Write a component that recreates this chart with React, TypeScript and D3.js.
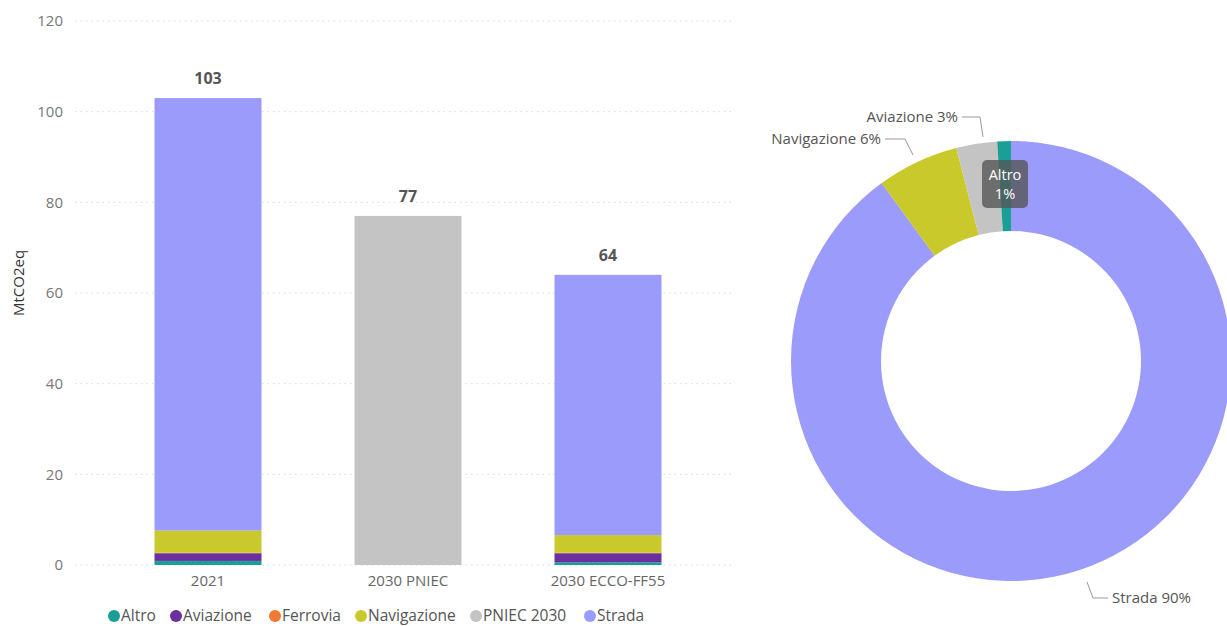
import * as d3 from "d3";

const categories = ["2021", "2030 PNIEC", "2030 ECCO-FF55"];
const seriesNames = ["Altro", "Aviazione", "Ferrovia", "Navigazione", "PNIEC 2030", "Strada"];
const altro = [0.9, 0, 0.6];
const aviazione = [1.7, 0, 2.0];
const ferrovia = [0.1, 0, 0.1];
const navigazione = [4.9, 0, 3.9];
const pniec2030 = [0, 77, 0];
const strada = [95.4, 0, 57.4];
const totals = [103, 77, 64];
const yTicks = [0, 20, 40, 60, 80, 100, 120];

const pieLabels = ["Strada", "Navigazione", "Aviazione", "Altro"];
const pieValues = [90, 6, 3, 1];

const colors: Record<string, string> = {
  Altro: "#1a9e96",
  Aviazione: "#6b2f9e",
  Ferrovia: "#ee7a36",
  Navigazione: "#c9c92b",
  "PNIEC 2030": "#c4c4c4",
  Strada: "#9b9bfb",
};
const pieColors: Record<string, string> = {
  Strada: "#9b9bfb",
  Navigazione: "#c9c92b",
  Aviazione: "#c4c4c4",
  Altro: "#1a9e96",
};

const font = "'Segoe UI', 'Open Sans', 'Noto Sans', sans-serif";

export default function App() {
  const width = 1227;
  const height = 626;

  const x = d3.scaleBand<string>()
    .domain(categories)
    .range([108, 708])
    .paddingInner(0.465)
    .paddingOuter(0.2325);
  const y = d3.scaleLinear().domain([0, 120]).range([565, 21]);

  const rows = categories.map((c, i) => ({
    cat: c,
    Altro: altro[i],
    Aviazione: aviazione[i],
    Ferrovia: ferrovia[i],
    Navigazione: navigazione[i],
    "PNIEC 2030": pniec2030[i],
    Strada: strada[i],
  }));
  const stacked = d3.stack<any>().keys(seriesNames)(rows);

  const cx = 1011;
  const cy = 361;
  const pie = d3.pie<number>().sort(null).value(d => d)(pieValues);
  const arc = d3.arc<d3.PieArcDatum<number>>().innerRadius(130).outerRadius(220);

  // legend circle centres
  const legendX = [114, 176, 275, 361, 476, 590];

  return (
    <svg width={width} height={height} style={{ position: "absolute", left: 0, top: 0, fontFamily: font }}>
      {yTicks.map(t => (
        <g key={t}>
          <line x1={75} x2={732} y1={y(t)} y2={y(t)} stroke="#d8d8d8" strokeDasharray="1.5,4" />
          <text x={63} y={y(t)} dy="0.35em" textAnchor="end" fontSize={15} fill="#777">{t}</text>
        </g>
      ))}
      <text transform={`translate(24,283) rotate(-90)`} textAnchor="middle" fontSize={15} fill="#333">MtCO2eq</text>

      {stacked.map(s => (
        <g key={s.key} fill={colors[s.key]}>
          {s.map((d, i) => (
            <rect key={i} x={x(categories[i])} y={y(d[1])} width={x.bandwidth()} height={Math.max(0, y(d[0]) - y(d[1]))} />
          ))}
        </g>
      ))}
      {categories.map((c, i) => (
        <g key={c}>
          <text x={(x(c) as number) + x.bandwidth() / 2} y={y(totals[i]) - 14} textAnchor="middle" fontSize={16} fontWeight="bold" fill="#555">{totals[i]}</text>
          <text x={(x(c) as number) + x.bandwidth() / 2} y={586} textAnchor="middle" fontSize={15} fill="#666">{c}</text>
        </g>
      ))}

      {seriesNames.map((n, i) => (
        <g key={n}>
          <circle cx={legendX[i]} cy={616} r={6} fill={colors[n]} />
          <text x={legendX[i] + 7} y={616} dy="0.33em" fontSize={15.5} fill="#555">{n}</text>
        </g>
      ))}

      <g transform={`translate(${cx},${cy})`}>
        {pie.map((p, i) => (
          <path key={i} d={arc(p) as string} fill={pieColors[pieLabels[i]]} />
        ))}
      </g>

      <polyline points="885,139 905,139 913,155" fill="none" stroke="#999" />
      <text x={881} y={139} dy="0.35em" textAnchor="end" fontSize={15} fill="#555">Navigazione 6%</text>
      <polyline points="962,117 980,117 983,137" fill="none" stroke="#999" />
      <text x={958} y={117} dy="0.35em" textAnchor="end" fontSize={15} fill="#555">Aviazione 3%</text>
      <polyline points="1087,582 1093,598 1108,598" fill="none" stroke="#999" />
      <text x={1112} y={598} dy="0.35em" fontSize={15} fill="#555">Strada 90%</text>

      <rect x={982} y={160} width={46} height={48} rx={5} fill="#555" fillOpacity={0.78} />
      <text x={1005} y={175} dy="0.35em" textAnchor="middle" fontSize={14.5} fill="#fff">Altro</text>
      <text x={1005} y={194} dy="0.35em" textAnchor="middle" fontSize={14.5} fill="#fff">1%</text>
    </svg>
  );
}
